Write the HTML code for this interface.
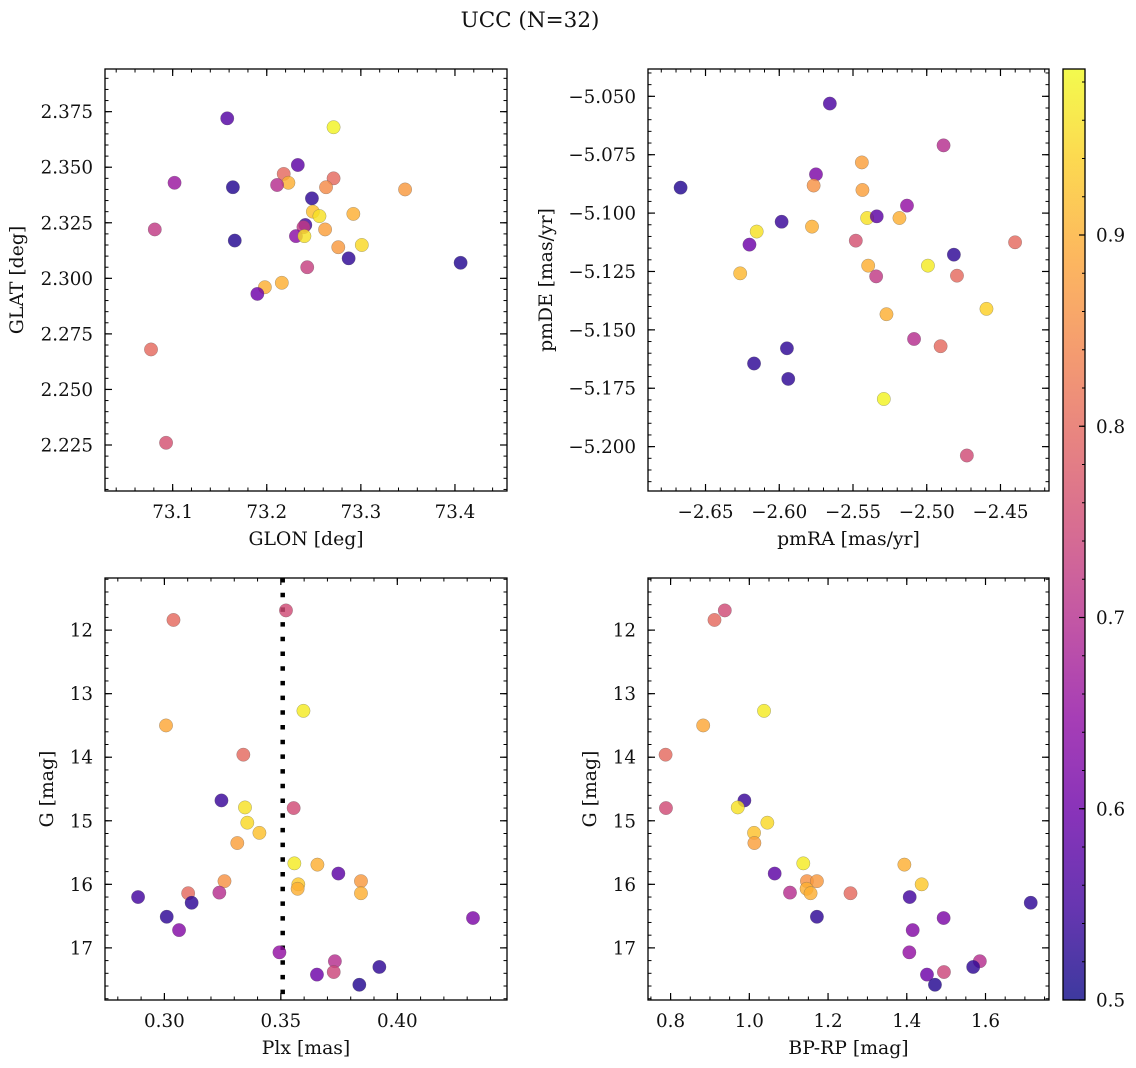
<!DOCTYPE html>
<html><head><meta charset="utf-8"><style>
html,body{margin:0;padding:0;background:#fff;}
svg{display:block;font-family:"DejaVu Serif","Liberation Serif",serif;}
</style></head><body>
<svg id="fig" width="1136" height="1068" viewBox="0 0 1136 1068">
<text x="530" y="27" font-size="21.5" text-anchor="middle" fill="#111">UCC (N=32)</text>
</svg>
<script>
// ---- data (one row per star) ----
const prob1 = [0.57,0.98,0.58,0.66,0.52,0.8,0.9,0.7,0.8,0.85,0.87,0.53,0.92,0.96,0.9,0.55,0.72,0.64,0.96,0.88,0.72,0.52,0.87,0.95,0.53,0.52,0.73,0.9,0.9,0.6,0.8,0.76];
const glon = [73.158,73.271,73.233,73.102,73.164,73.218,73.223,73.211,73.271,73.263,73.347,73.248,73.249,73.256,73.292,73.241,73.239,73.231,73.240,73.262,73.081,73.166,73.276,73.301,73.287,73.406,73.243,73.216,73.198,73.190,73.077,73.093];
const glat = [2.372,2.368,2.351,2.343,2.341,2.347,2.343,2.342,2.345,2.341,2.340,2.336,2.330,2.328,2.329,2.324,2.323,2.319,2.319,2.322,2.322,2.317,2.314,2.315,2.309,2.307,2.305,2.298,2.296,2.293,2.268,2.226];

const prob2 = [0.56,0.7,0.52,0.88,0.62,0.86,0.88,0.65,0.54,0.96,0.58,0.9,0.96,0.9,0.6,0.76,0.8,0.53,0.91,0.9,0.97,0.72,0.8,0.94,0.9,0.7,0.8,0.53,0.53,0.53,0.98,0.75];
const pmra = [-2.5657,-2.4886,-2.6669,-2.5440,-2.5751,-2.5767,-2.5436,-2.5134,-2.5984,-2.5404,-2.5339,-2.5185,-2.6153,-2.5778,-2.6202,-2.5481,-2.4401,-2.4816,-2.6265,-2.5397,-2.4992,-2.5343,-2.4795,-2.4595,-2.5273,-2.5086,-2.4906,-2.5948,-2.6171,-2.5939,-2.5291,-2.4728];
const pmde = [-5.0531,-5.0710,-5.0891,-5.0783,-5.0834,-5.0882,-5.0901,-5.0968,-5.1037,-5.1021,-5.1014,-5.1021,-5.1079,-5.1058,-5.1135,-5.1118,-5.1125,-5.1178,-5.1258,-5.1225,-5.1225,-5.1271,-5.1268,-5.1410,-5.1433,-5.1539,-5.1570,-5.1579,-5.1644,-5.1710,-5.1796,-5.2038];

const prob3 = [0.75,0.8,0.97,0.89,0.8,0.54,0.96,0.75,0.95,0.92,0.88,0.97,0.9,0.58,0.86,0.93,0.87,0.9,0.9,0.8,0.7,0.55,0.53,0.53,0.62,0.63,0.65,0.7,0.53,0.74,0.6,0.52];
const gmag = [11.69,11.84,13.27,13.50,13.96,14.68,14.79,14.80,15.03,15.19,15.35,15.67,15.69,15.83,15.95,16.00,15.95,16.07,16.14,16.14,16.13,16.20,16.29,16.51,16.53,16.72,17.07,17.21,17.30,17.38,17.42,17.58];
const plx = [0.3522,0.3039,0.3597,0.3007,0.3339,0.3245,0.3346,0.3555,0.3356,0.3408,0.3313,0.3558,0.3657,0.3747,0.3258,0.3575,0.3844,0.3572,0.3844,0.3102,0.3236,0.2887,0.3117,0.3010,0.4325,0.3063,0.3494,0.3732,0.3923,0.3727,0.3655,0.3837];
const bprp = [0.9377,0.9115,1.0374,0.8828,0.7873,0.9875,0.9706,0.7882,1.0458,1.0120,1.0129,1.1371,1.3939,1.0644,1.1464,1.4378,1.1717,1.1455,1.1556,1.2570,1.1033,1.4074,1.7149,1.1717,1.4936,1.4150,1.4065,1.5856,1.5687,1.4944,1.4513,1.4716];
const plxRef = [0.3508];

const cbTicks = [0.5,0.6,0.7,0.8,0.9];
const ticks1x = [73.1,73.2,73.3,73.4], ticks1y = [2.225,2.25,2.275,2.3,2.325,2.35,2.375];
const ticks2x = [-2.65,-2.6,-2.55,-2.5,-2.45], ticks2y = [-5.2,-5.175,-5.15,-5.125,-5.1,-5.075,-5.05];
const ticks3x = [0.3,0.35,0.4], ticksG = [12,13,14,15,16,17];
const ticks4x = [0.8,1.0,1.2,1.4,1.6];

// ---- helpers ----
const NS = "http://www.w3.org/2000/svg";
const svg = document.getElementById('fig');
function mk(tag, attrs, parent){const e=document.createElementNS(NS,tag);for(const k in attrs)e.setAttribute(k,attrs[k]);(parent||svg).appendChild(e);return e;}
const VMIN=0.5, VMAX=0.9868;
const stops=[[13,8,135],[65,4,157],[106,0,168],[143,13,164],[177,42,144],[204,71,120],[225,100,98],[242,132,75],[252,166,54],[252,206,37],[240,249,33]];
function plasma(v){let t=(v-VMIN)/(VMAX-VMIN);t=Math.max(0,Math.min(1,t))*10;const i=Math.min(9,Math.floor(t)),f=t-i;const a=stops[i],b=stops[i+1];return 'rgb('+a.map((c,k)=>Math.round(c+(b[k]-c)*f)).join(',')+')';}
function fmt(v,d){const s=Math.abs(v).toFixed(d);return (v<0?'\u2212':'')+s;}
const TFS=18.3, LFS=18.8;

function panel(o){
  const g=mk('g',{});
  
  
  const X=v=>o.x0+(v-o.xmin)/(o.xmax-o.xmin)*(o.x1-o.x0);
  const Y=o.invert? v=>o.y0+(v-o.ymin)/(o.ymax-o.ymin)*(o.y1-o.y0) : v=>o.y1-(v-o.ymin)/(o.ymax-o.ymin)*(o.y1-o.y0);
  const eps=1e-9;
  let s=Math.ceil(o.xmin/o.xminor-eps);
  for(let v=s*o.xminor; v<=o.xmax+eps; v+=o.xminor){const px=X(v);
    mk('line',{x1:px,x2:px,y1:o.y1,y2:o.y1-3.5,stroke:'#000','stroke-width':1},g);
    mk('line',{x1:px,x2:px,y1:o.y0,y2:o.y0+3.5,stroke:'#000','stroke-width':1},g);}
  s=Math.ceil(o.ymin/o.yminor-eps);
  for(let v=s*o.yminor; v<=o.ymax+eps; v+=o.yminor){const py=Y(v);
    mk('line',{x1:o.x0,x2:o.x0+3.5,y1:py,y2:py,stroke:'#000','stroke-width':1},g);
    mk('line',{x1:o.x1,x2:o.x1-3.5,y1:py,y2:py,stroke:'#000','stroke-width':1},g);}
  o.xt.forEach(v=>{const px=X(v);
    mk('line',{x1:px,x2:px,y1:o.y1,y2:o.y1-7,stroke:'#000','stroke-width':1.2},g);
    mk('line',{x1:px,x2:px,y1:o.y0,y2:o.y0+7,stroke:'#000','stroke-width':1.2},g);
    const t=mk('text',{x:px,y:o.y1+27,'font-size':TFS,'text-anchor':'middle',fill:'#111'},g);t.textContent=fmt(v,o.xd);
    
    });
  o.yt.forEach(v=>{const py=Y(v);
    mk('line',{x1:o.x0,x2:o.x0+7,y1:py,y2:py,stroke:'#000','stroke-width':1.2},g);
    mk('line',{x1:o.x1,x2:o.x1-7,y1:py,y2:py,stroke:'#000','stroke-width':1.2},g);
    const t=mk('text',{x:o.x0-12,y:py+6.5,'font-size':TFS,'text-anchor':'end',fill:'#111'},g);t.textContent=fmt(v,o.yd);
    
    });
  if(o.vline!==undefined){const px=X(o.vline);
    const l=mk('line',{x1:px,x2:px,y1:o.y0,y2:o.y1,stroke:'#000','stroke-width':4.5,'stroke-dasharray':'4.5 10.2'},g);
    
    }
  o.xs.forEach((xv,i)=>{
    const c=mk('circle',{cx:X(xv),cy:Y(o.ys[i]),r:6.7,fill:plasma(o.cs[i]),'fill-opacity':0.82,stroke:'#555','stroke-opacity':0.5,'stroke-width':0.5},g);
    
    
  });
  mk('rect',{x:o.x0,y:o.y0,width:o.x1-o.x0,height:o.y1-o.y0,fill:'none',stroke:'#000','stroke-width':1.3},g);
  const xl=mk('text',{x:(o.x0+o.x1)/2,y:o.y1+54,'font-size':LFS,'text-anchor':'middle',fill:'#111'},g);xl.textContent=o.xlabel;
  
  
  const yx=o.ylx, yy=(o.y0+o.y1)/2;
  const yl=mk('text',{x:yx,y:yy,'font-size':LFS,'text-anchor':'middle',fill:'#111',transform:'rotate(-90 '+yx+' '+yy+')'},g);yl.textContent=o.ylabel;
  
  
}

panel({name:'glon-glat-panel',x0:105,x1:507,y0:69,y1:491,xmin:73.0281,xmax:73.4553,ymin:2.2043,ymax:2.3942,
  xt:ticks1x,yt:ticks1y,xd:1,yd:3,xminor:0.02,yminor:0.005,xs:glon,ys:glat,cs:prob1,xlabel:'GLON [deg]',ylabel:'GLAT [deg]',ylx:23});
panel({name:'pm-panel',x0:648,x1:1049,y0:69,y1:491,xmin:-2.689,xmax:-2.4171,ymin:-5.219,ymax:-5.0383,
  xt:ticks2x,yt:ticks2y,xd:2,yd:3,xminor:0.01,yminor:0.005,xs:pmra,ys:pmde,cs:prob2,xlabel:'pmRA [mas/yr]',ylabel:'pmDE [mas/yr]',ylx:552});
panel({name:'plx-g-panel',x0:105,x1:507,y0:578,y1:1000,xmin:0.2745,xmax:0.4471,ymin:11.18,ymax:17.82,invert:true,
  xt:ticks3x,yt:ticksG,xd:2,yd:0,xminor:0.01,yminor:0.2,xs:plx,ys:gmag,cs:prob3,xlabel:'Plx [mas]',ylabel:'G [mag]',ylx:53,vline:plxRef[0]});
panel({name:'cmd-panel',x0:648,x1:1049,y0:578,y1:1000,xmin:0.7426,xmax:1.7613,ymin:11.18,ymax:17.82,invert:true,
  xt:ticks4x,yt:ticksG,xd:1,yd:0,xminor:0.05,yminor:0.2,xs:bprp,ys:gmag,cs:prob3,xlabel:'BP-RP [mag]',ylabel:'G [mag]',ylx:596});

// colorbar
const cb=mk('g',{});


const defs=mk('defs',{});
const lg=mk('linearGradient',{id:'plg',x1:0,y1:1,x2:0,y2:0},defs);
for(let k=0;k<=20;k++){const v=VMIN+(VMAX-VMIN)*k/20;mk('stop',{offset:k/20,'stop-color':plasma(v),'stop-opacity':0.8},lg);}
const CY0=69,CY1=1000,CX0=1063,CX1=1085;
const CBY=v=>CY1-(v-VMIN)/(VMAX-VMIN)*(CY1-CY0);
mk('rect',{x:CX0,y:CY0,width:CX1-CX0,height:CY1-CY0,fill:'url(#plg)'},cb);
for(let v=0.52;v<VMAX;v+=0.02){const py=CBY(v);mk('line',{x1:CX1,x2:CX1-3,y1:py,y2:py,stroke:'#000','stroke-width':1},cb);}
cbTicks.forEach(v=>{const py=CBY(v);
  mk('line',{x1:CX1,x2:CX1-6,y1:py,y2:py,stroke:'#000','stroke-width':1.2},cb);
  const t=mk('text',{x:1096,y:py+6.5,'font-size':TFS,fill:'#111'},cb);t.textContent=v.toFixed(1);
  
  });
mk('rect',{x:CX0,y:CY0,width:CX1-CX0,height:CY1-CY0,fill:'none',stroke:'#000','stroke-width':1.3},cb);
</script>
</body></html>
